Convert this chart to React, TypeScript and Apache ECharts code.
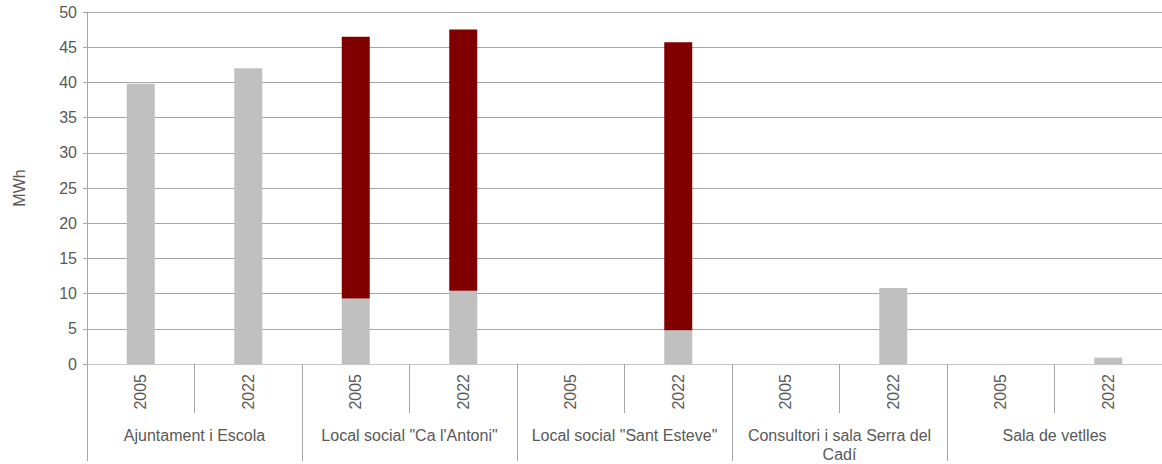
import React, { useEffect, useRef } from "react";
import * as echarts from "echarts";

const years = ["2005", "2022", "2005", "2022", "2005", "2022", "2005", "2022", "2005", "2022"];
const groups = [
  "Ajuntament i Escola",
  "Local social \"Ca l'Antoni\"",
  "Local social \"Sant Esteve\"",
  "Consultori i sala Serra del\nCadí",
  "Sala de vetlles",
];
const greyValues = [39.8, 42.0, 9.3, 10.4, 0, 4.8, 0, 10.8, 0, 0.9];
const redValues = [0, 0, 37.2, 37.1, 0, 40.9, 0, 0, 0, 0];
const yTicks = { min: 0, max: 50, interval: 5 };

const FONT = "Liberation Sans, Arial, sans-serif";
const TEXT = "#595959";
const LINE = "#a6a6a6";

export default function App() {
  const ref = useRef<HTMLDivElement>(null);
  useEffect(() => {
    if (!ref.current) return;
    document.body.style.margin = "0";
    document.body.style.overflow = "hidden";
    const chart = echarts.init(ref.current, null, { renderer: "svg", width: 1162, height: 464 });
    chart.setOption({
      animation: false,
      textStyle: { fontFamily: FONT },
      grid: { left: 87, top: 12, width: 1080, height: 355, containLabel: false },
      xAxis: [
        {
          type: "category",
          data: years,
          position: "bottom",
          axisLine: { show: true, lineStyle: { color: "#c8c8c8", width: 1 } },
          axisTick: { show: true, interval: 0, length: 49, lineStyle: { color: LINE } },
          axisLabel: {
            interval: 0,
            rotate: 90,
            margin: 10,
            fontSize: 16,
            color: TEXT,
            fontFamily: FONT,
          },
        },
        {
          type: "category",
          data: groups,
          position: "bottom",
          axisLine: { show: false },
          axisTick: { show: true, interval: 0, length: 97, lineStyle: { color: LINE } },
          axisLabel: {
            interval: 0,
            margin: 62,
            fontSize: 16,
            lineHeight: 19,
            color: TEXT,
            fontFamily: FONT,
            verticalAlign: "top",
          },
        },
      ],
      yAxis: {
        type: "value",
        min: yTicks.min,
        max: yTicks.max,
        interval: yTicks.interval,
        name: "MWh",
        nameLocation: "middle",
        nameGap: 60,
        nameRotate: 90,
        nameTextStyle: { fontSize: 16, color: TEXT, fontFamily: FONT },
        axisLine: { show: true, lineStyle: { color: LINE } },
        axisTick: { show: true, length: 4, lineStyle: { color: LINE } },
        axisLabel: { margin: 10, fontSize: 16, color: TEXT, fontFamily: FONT },
        splitLine: { show: true, lineStyle: { color: LINE, width: 1 } },
      },
      series: [
        {
          name: "Electricitat",
          type: "bar",
          stack: "total",
          xAxisIndex: 0,
          data: greyValues,
          barWidth: 28,
          itemStyle: { color: "#c0c0c0" },
        },
        {
          name: "Combustibles",
          type: "bar",
          stack: "total",
          xAxisIndex: 0,
          data: redValues,
          barWidth: 28,
          itemStyle: { color: "#800000" },
        },
      ],
    });
    return () => chart.dispose();
  }, []);
  return <div ref={ref} style={{ width: 1162, height: 464, overflow: "hidden" }} />;
}
